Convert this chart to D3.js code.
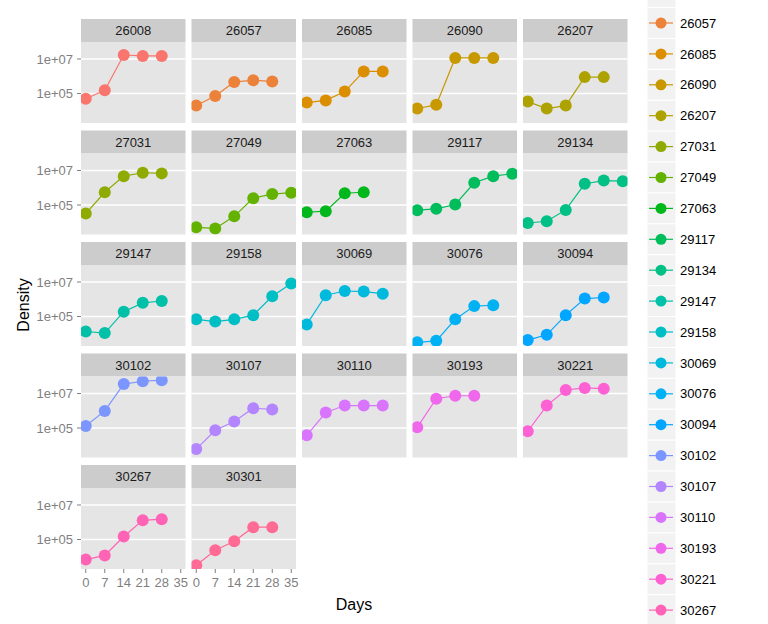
<!DOCTYPE html>
<html><head><meta charset="utf-8">
<script src="https://d3js.org/d3.v7.min.js"></script>
<style>body{margin:0;background:#fff;} text{font-family:"Liberation Sans",Arial,sans-serif;}</style>
</head><body>
<svg id="chart" width="768" height="624"></svg>
<script>
const strains = ["26008","26057","26085","26090","26207","27031","27049","27063","29117","29134","29147","29158","30069","30076","30094","30102","30107","30110","30193","30221","30267","30301"];
const days = [0,7,14,21,28,35];
const densityByStrain = [
  [5.0e4,1.55e5,1.7e7,1.5e7,1.5e7],
  [2.0e4,7.1e4,4.7e5,5.8e5,5.0e5],
  [3.0e4,4.0e4,1.3e5,1.9e6,1.9e6],
  [1.35e4,2.2e4,1.15e7,1.15e7,1.15e7],
  [3.4e4,1.35e4,2.0e4,8.9e5,8.9e5],
  [3.2e4,5.5e5,4.7e6,7.4e6,6.8e6],
  [5.1e3,4.4e3,2.2e4,2.5e5,4.3e5,5.2e5],
  [3.8e4,4.4e4,4.8e5,5.5e5],
  [5.0e4,6.0e4,1.07e5,1.95e6,4.7e6,6.5e6],
  [9.1e3,1.15e4,5.2e4,1.7e6,2.6e6,2.4e6],
  [1.35e4,1.1e4,1.9e5,6.2e5,7.9e5],
  [6.9e4,5.1e4,6.9e4,1.2e5,1.5e6,8.1e6],
  [3.5e4,1.7e6,3.0e6,2.8e6,2.1e6],
  [3.2e3,3.9e3,6.9e4,4.0e5,4.5e5],
  [4.3e3,8.7e3,1.2e5,1.1e6,1.26e6],
  [1.3e5,9.8e5,3.5e7,5.1e7,5.9e7],
  [6.0e3,7.4e4,2.4e5,1.4e6,1.2e6],
  [3.8e4,7.9e5,2.0e6,2.0e6,2.0e6],
  [1.1e5,5.0e6,7.4e6,7.4e6],
  [6.5e4,2.0e6,1.6e7,2.1e7,1.9e7],
  [6.9e3,1.2e4,1.5e5,1.3e6,1.5e6],
  [3.2e3,2.4e4,7.9e4,5.2e5,5.2e5]
];
const xTicks = [0,7,14,21,28,35];
const yTicks = [1e5,1e7];
const yTickLabels = ["1e+05","1e+07"];

// ggplot-like hue palette in polar LUV
function hclLuv(h, c, l) {
  const Xn=95.047, Yn=100, Zn=108.883;
  const Y = Yn * (l > 8 ? Math.pow((l+16)/116, 3) : l/903.3);
  const den = Xn + 15*Yn + 3*Zn;
  const un = 4*Xn/den, vn = 9*Yn/den;
  const hr = h*Math.PI/180;
  const u = c*Math.cos(hr), v = c*Math.sin(hr);
  const up = u/(13*l) + un, vp = v/(13*l) + vn;
  const X = Y*9*up/(4*vp);
  const Z = Y*(12 - 3*up - 20*vp)/(4*vp);
  const x = X/100, y = Y/100, z = Z/100;
  let r = 3.240479*x - 1.537150*y - 0.498535*z;
  let g = -0.969256*x + 1.875992*y + 0.041556*z;
  let b = 0.055648*x - 0.204043*y + 1.057311*z;
  const gam = t => { t = t <= 0.0031308 ? 12.92*t : 1.055*Math.pow(t,1/2.4)-0.055; return Math.round(Math.max(0,Math.min(1,t))*255); };
  return d3.rgb(gam(r), gam(g), gam(b)).formatHex();
}
const n = strains.length;
const colors = strains.map((s,i) => hclLuv(15 + i*360/n, 100, 65));
const color = d3.scaleOrdinal().domain(strains).range(colors);

const data = strains.map((s,i) => ({strain:s, values: densityByStrain[i].map((v,j)=>({day:days[j], density:v}))}));

const svg = d3.select("#chart");
const ncol = 5;
const left0 = 81, colStep = 110.5, pw = 104.5;
const top0 = 19, rowStep = 111.5, stripH = 23, ph = 81;

const allVals = densityByStrain.flat();
const lmin = Math.log10(d3.min(allVals)), lmax = Math.log10(d3.max(allVals));
const ly = (lmax - lmin)*0.05;
const y = d3.scaleLog().domain([Math.pow(10,lmin-ly), Math.pow(10,lmax+ly)]).range([ph,0]);
const x = d3.scaleLinear().domain([0 - 35*0.05, 35 + 35*0.05]).range([0,pw]);

const line = d3.line().x(d=>x(d.day)).y(d=>y(d.density));
const nrow = Math.ceil(n/ncol);

data.forEach((d,i) => {
  const r = Math.floor(i/ncol), c = i % ncol;
  const gx = left0 + c*colStep, gy = top0 + r*rowStep;
  const g = svg.append("g").attr("transform",`translate(${gx},${gy})`);
  g.append("rect").attr("width",pw).attr("height",stripH).attr("fill","#cccccc");
  g.append("text").attr("x",pw/2).attr("y",stripH/2).attr("dy","0.36em").attr("text-anchor","middle")
    .attr("font-size",13).attr("fill","#1a1a1a").text(d.strain);
  const p = g.append("g").attr("transform",`translate(0,${stripH})`);
  p.append("rect").attr("width",pw).attr("height",ph).attr("fill","#e5e5e5");
  const cid = "clip"+i;
  p.append("clipPath").attr("id",cid).append("rect").attr("width",pw).attr("height",ph);
  p.selectAll("line.grid").data(yTicks).join("line").attr("class","grid")
    .attr("x1",0).attr("x2",pw).attr("y1",t=>y(t)).attr("y2",t=>y(t))
    .attr("stroke","#ffffff").attr("stroke-width",1.3);
  const pc = p.append("g").attr("clip-path",`url(#${cid})`);
  pc.append("path").datum(d.values).attr("d",line).attr("fill","none")
    .attr("stroke",color(d.strain)).attr("stroke-width",1.2);
  pc.selectAll("circle").data(d.values).join("circle")
    .attr("cx",v=>x(v.day)).attr("cy",v=>y(v.density)).attr("r",6)
    .attr("fill",color(d.strain));
  if (c === 0) {
    const ya = p.append("g");
    ya.selectAll("line").data(yTicks).join("line")
      .attr("x1",-4).attr("x2",0).attr("y1",t=>y(t)).attr("y2",t=>y(t)).attr("stroke","#7f7f7f");
    ya.selectAll("text").data(yTicks).join("text")
      .attr("x",-8).attr("y",t=>y(t)).attr("dy","0.35em").attr("text-anchor","end")
      .attr("font-size",13).attr("fill","#7f7f7f").text((t,k)=>yTickLabels[k]);
  }
  // x axis only on the last row (as in facet_wrap of the reference)
  if (r === nrow - 1) {
    const xa = p.append("g").attr("transform",`translate(0,${ph})`);
    xa.selectAll("line").data(xTicks).join("line")
      .attr("x1",t=>x(t)).attr("x2",t=>x(t)).attr("y1",0).attr("y2",4).attr("stroke","#7f7f7f");
    xa.selectAll("text").data(xTicks).join("text")
      .attr("x",t=>x(t)).attr("y",18).attr("text-anchor","middle")
      .attr("font-size",13).attr("fill","#7f7f7f").text(t=>t);
  }
});

// axis titles
svg.append("text").attr("x",354).attr("y",610).attr("text-anchor","middle").attr("font-size",16).attr("fill","#000").text("Days");
svg.append("text").attr("transform","translate(29,305) rotate(-90)").attr("text-anchor","middle").attr("font-size",16).attr("fill","#000").text("Density");

// legend (overflows the window as in the reference; only keys in view get labels)
const keyH = 30.9, keyW = 29, legX = 647, firstCenter = 23 - keyH;
const lg = svg.append("g");
strains.forEach((s,i) => {
  const cy = firstCenter + i*keyH;
  const k = lg.append("g").attr("transform",`translate(${legX},${cy - keyH/2})`);
  k.append("rect").attr("width",keyW).attr("height",keyH).attr("fill","#f2f2f2").attr("stroke","#ffffff").attr("stroke-width",1);
  k.append("line").attr("x1",2).attr("x2",keyW-3).attr("y1",keyH/2).attr("y2",keyH/2).attr("stroke",color(s)).attr("stroke-width",1.2);
  k.append("circle").attr("cx",14).attr("cy",keyH/2).attr("r",5.5).attr("fill",color(s));
  if (cy - 8 >= 0 && cy + 8 <= 624) {
    lg.append("text").attr("x",680).attr("y",cy).attr("dy","0.36em").attr("font-size",13).attr("fill","#000").text(s);
  }
});
</script>
</body></html>
